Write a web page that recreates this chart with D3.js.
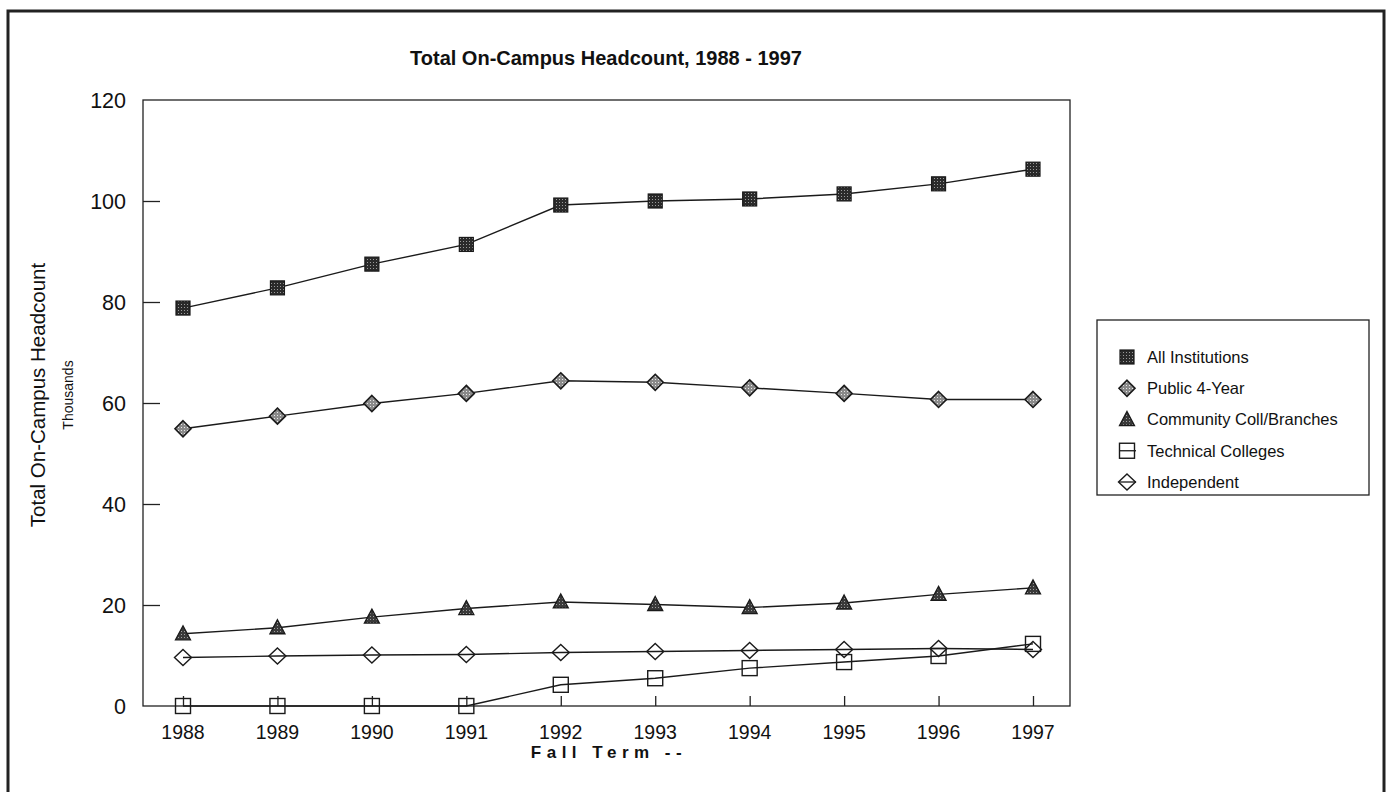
<!DOCTYPE html>
<html><head><meta charset="utf-8">
<script src="https://cdn.jsdelivr.net/npm/d3@7"></script>
<style>body{margin:0;background:#fff;} svg{display:block;font-family:"Liberation Sans",Arial,sans-serif;}</style>
</head><body>
<svg id="c" width="1392" height="792"></svg>
<script>
const years = [1988,1989,1990,1991,1992,1993,1994,1995,1996,1997];
const allInstitutions = [78.8,82.8,87.5,91.4,99.2,100.0,100.4,101.4,103.4,106.3];
const public4Year = [54.9,57.4,59.9,61.9,64.4,64.1,63.0,61.9,60.7,60.7];
const communityColl = [14.3,15.5,17.6,19.3,20.6,20.1,19.5,20.4,22.1,23.4];
const technicalColleges = [0,0,0,0,4.2,5.5,7.5,8.7,9.9,12.3];
const independent = [9.6,9.9,10.1,10.2,10.6,10.8,11.0,11.2,11.4,11.2];
const yTicks = [0,20,40,60,80,100,120];
const seriesNames = ["All Institutions","Public 4-Year","Community Coll/Branches","Technical Colleges","Independent"];
const seriesKeys = ["sqFill","diaFill","tri","sqOpen","diaOpen"];
const seriesData = [allInstitutions,public4Year,communityColl,technicalColleges,independent];

const svg = d3.select("#c");
const defs = svg.append("defs");
function dotPattern(id, bg, dot){
  const p = defs.append("pattern").attr("id",id).attr("width",3).attr("height",3).attr("patternUnits","userSpaceOnUse");
  p.append("rect").attr("width",3).attr("height",3).attr("fill",bg);
  p.append("rect").attr("x",1).attr("y",1).attr("width",1).attr("height",1).attr("fill",dot);
}
dotPattern("pAll","#2a2a2a","#9a9a9a");
dotPattern("pPub","#8a8a8a","#e8e8e8");
dotPattern("pTri","#3a3a3a","#a0a0a0");

// outer border
svg.append("rect").attr("x",8).attr("y",11).attr("width",1376).attr("height",800)
  .attr("fill","none").attr("stroke","#222").attr("stroke-width",3);

const L=143, R=1070, T=100, B=706;
const x = d3.scalePoint().domain(years).range([183,1033]);
const y = d3.scaleLinear().domain([0,120]).range([B,T]);

// plot frame
svg.append("rect").attr("x",L).attr("y",T).attr("width",R-L).attr("height",B-T)
  .attr("fill","none").attr("stroke","#222").attr("stroke-width",1.3);

// y ticks (inside)
const yAx = svg.append("g").attr("transform",`translate(${L},0)`)
  .call(d3.axisRight(y).tickValues(yTicks.filter(d=>d>0&&d<120)).tickSize(17).tickFormat(""));
yAx.select(".domain").remove();
yAx.selectAll("line").attr("stroke","#222").attr("stroke-width",1.3);
svg.selectAll(".ylab").data(yTicks).enter().append("text")
  .attr("x",126).attr("y",d=>y(d)).attr("dy","0.36em").attr("text-anchor","end")
  .attr("font-size",21.5).attr("fill","#111").text(d=>d);

// x ticks (inside, upward)
const xAx = svg.append("g").attr("transform",`translate(0,${B})`)
  .call(d3.axisTop(x).tickSize(10).tickFormat(""));
xAx.select(".domain").remove();
xAx.selectAll("line").attr("stroke","#222").attr("stroke-width",1.3);
svg.selectAll(".xlab").data(years).enter().append("text")
  .attr("x",d=>x(d)).attr("y",739).attr("text-anchor","middle")
  .attr("font-size",19.5).attr("fill","#111").text(d=>d);

// title & labels
svg.append("text").attr("x",606).attr("y",65).attr("text-anchor","middle")
  .attr("font-size",20).attr("font-weight","bold").attr("fill","#111")
  .text("Total On-Campus Headcount, 1988 - 1997");
svg.append("text").attr("transform","translate(45,395) rotate(-90)").attr("text-anchor","middle")
  .attr("font-size",20.5).attr("fill","#111").text("Total On-Campus Headcount");
svg.append("text").attr("transform","translate(73,395) rotate(-90)").attr("text-anchor","middle")
  .attr("font-size",14).attr("fill","#111").text("Thousands");
svg.append("text").attr("x",609).attr("y",758).attr("text-anchor","middle")
  .attr("font-size",17).attr("font-weight","bold").attr("letter-spacing","5.5px").attr("fill","#111")
  .text("Fall Term --");

// marker drawing
function marker(g, key, cx, cy){
  if(key==="sqFill"){
    g.append("rect").attr("x",cx-7).attr("y",cy-7).attr("width",14).attr("height",14)
      .attr("fill","url(#pAll)").attr("stroke","#1a1a1a").attr("stroke-width",1.2);
  } else if(key==="diaFill"){
    g.append("path").attr("d",`M${cx},${cy-8}L${cx+8},${cy}L${cx},${cy+8}L${cx-8},${cy}Z`)
      .attr("fill","url(#pPub)").attr("stroke","#1a1a1a").attr("stroke-width",1.6);
  } else if(key==="tri"){
    g.append("path").attr("d",`M${cx},${cy-8}L${cx+7.5},${cy+6}L${cx-7.5},${cy+6}Z`)
      .attr("fill","url(#pTri)").attr("stroke","#1a1a1a").attr("stroke-width",1.3);
  } else if(key==="sqOpen"){
    g.append("rect").attr("x",cx-7.5).attr("y",cy-7.5).attr("width",15).attr("height",15)
      .attr("fill","none").attr("stroke","#1a1a1a").attr("stroke-width",1.4);
  } else if(key==="diaOpen"){
    g.append("path").attr("d",`M${cx},${cy-8}L${cx+8.5},${cy}L${cx},${cy+8}L${cx-8.5},${cy}Z`)
      .attr("fill","none").attr("stroke","#1a1a1a").attr("stroke-width",1.4);
  }
}

const line = d3.line().x((d,i)=>x(years[i])).y(d=>y(d));
seriesData.forEach((data,si)=>{
  svg.append("path").datum(data).attr("d",line).attr("fill","none")
    .attr("stroke","#1a1a1a").attr("stroke-width",1.4);
});
seriesData.forEach((data,si)=>{
  const g = svg.append("g");
  data.forEach((v,i)=>marker(g, seriesKeys[si], x(years[i]), y(v)));
});

// legend
svg.append("rect").attr("x",1097).attr("y",320).attr("width",272).attr("height",175)
  .attr("fill","#fff").attr("stroke","#222").attr("stroke-width",1.3);
const ly = d3.scalePoint().domain(seriesNames).range([357,482]);
seriesNames.forEach((name,i)=>{
  const g = svg.append("g");
  const cy = ly(name);
  if(seriesKeys[i]==="sqOpen"||seriesKeys[i]==="diaOpen"){
    g.append("line").attr("x1",1119).attr("x2",1136).attr("y1",cy).attr("y2",cy)
      .attr("stroke","#1a1a1a").attr("stroke-width",1.3);
  }
  marker(g, seriesKeys[i], 1127, cy);
  g.append("text").attr("x",1147).attr("y",cy).attr("dy","0.36em")
    .attr("font-size",16.5).attr("fill","#111").text(name);
});
</script>
</body></html>
